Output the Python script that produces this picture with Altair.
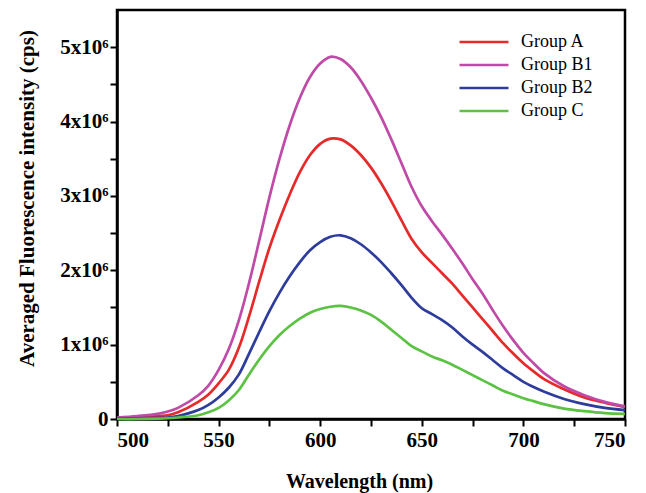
import altair as alt
import pandas as pd

wavelengths = [500, 510, 520, 525, 530, 540, 545, 550, 555, 560, 565, 570, 575, 580, 585, 590, 595,
               600, 605, 610, 615, 620, 625, 630, 635, 640, 645, 650, 655, 660, 665, 670, 675, 680,
               685, 690, 695, 700, 705, 710, 720, 730, 740, 750]

group_a = [0.01, 0.02, 0.04, 0.05, 0.09, 0.23, 0.33, 0.48, 0.66, 0.96, 1.38, 1.85, 2.30, 2.68, 3.02,
           3.32, 3.55, 3.70, 3.77, 3.76, 3.68, 3.55, 3.38, 3.17, 2.93, 2.67, 2.42, 2.24, 2.10, 1.96,
           1.82, 1.66, 1.50, 1.34, 1.18, 1.02, 0.88, 0.75, 0.64, 0.54, 0.40, 0.29, 0.22, 0.16]
group_b1 = [0.02, 0.04, 0.07, 0.10, 0.15, 0.32, 0.45, 0.66, 0.94, 1.33, 1.83, 2.40, 2.98, 3.50, 3.95,
            4.32, 4.60, 4.78, 4.87, 4.84, 4.73, 4.55, 4.32, 4.06, 3.76, 3.44, 3.12, 2.86, 2.66, 2.48,
            2.29, 2.09, 1.88, 1.68, 1.46, 1.25, 1.06, 0.89, 0.75, 0.62, 0.44, 0.32, 0.23, 0.17]
group_b2 = [0.005, 0.01, 0.015, 0.02, 0.04, 0.12, 0.19, 0.29, 0.42, 0.60, 0.88, 1.17, 1.45, 1.70, 1.92,
            2.11, 2.27, 2.38, 2.45, 2.47, 2.43, 2.35, 2.24, 2.11, 1.96, 1.80, 1.63, 1.49, 1.41, 1.33,
            1.23, 1.11, 1.00, 0.90, 0.79, 0.68, 0.59, 0.50, 0.43, 0.37, 0.27, 0.20, 0.15, 0.12]
group_c = [0.0, 0.0, 0.005, 0.01, 0.02, 0.05, 0.09, 0.15, 0.25, 0.39, 0.60, 0.80, 0.98, 1.13, 1.25,
           1.35, 1.43, 1.48, 1.51, 1.52, 1.50, 1.46, 1.40, 1.31, 1.20, 1.09, 0.98, 0.91, 0.84, 0.79,
           0.73, 0.66, 0.59, 0.52, 0.45, 0.38, 0.33, 0.28, 0.24, 0.20, 0.14, 0.105, 0.08, 0.07]

groups = ["Group A", "Group B1", "Group B2", "Group C"]
colors = ["#e62a2a", "#c04aa8", "#2e3c9c", "#5cc244"]
series = [group_a, group_b1, group_b2, group_c]

rows = []
for g, vals in zip(groups, series):
    for w, v in zip(wavelengths, vals):
        rows.append({"wavelength": w, "intensity": v * 1e6, "group": g})
df = pd.DataFrame(rows)

x_ticks = list(range(500, 751, 25))
y_ticks = [i * 500000 for i in range(0, 11)]

chart = alt.Chart(df).mark_line(strokeWidth=2.7, interpolate="catmull-rom").encode(
    x=alt.X("wavelength:Q",
            scale=alt.Scale(domain=[500, 750], nice=False, zero=False),
            axis=alt.Axis(title="Wavelength (nm)", values=x_ticks,
                          labelExpr="datum.value % 50 == 0 ? datum.label : ''",
                          grid=False, tickSize=7, tickWidth=2, tickColor="black",
                          domainColor="black", domainWidth=2.5,
                          labelFont="Liberation Serif", labelFontWeight="bold", labelFontSize=21,
                          labelColor="black", labelPadding=3,
                          titleFont="Liberation Serif", titleFontWeight="bold", titleFontSize=20,
                          titleColor="black", titleX=242, titleY=62, titleBaseline="middle")),
    y=alt.Y("intensity:Q",
            scale=alt.Scale(domain=[0, 5500000], nice=False),
            axis=alt.Axis(title="Averaged Fluorescence intensity (cps)", values=y_ticks,
                          labelExpr="datum.value == 0 ? '0' : (datum.value % 1000000 == 0 ? (datum.value / 1000000) + 'x10⁶' : '')",
                          grid=False, tickSize=7, tickWidth=2, tickColor="black",
                          domainColor="black", domainWidth=2.5,
                          labelFont="Liberation Serif", labelFontWeight="bold", labelFontSize=21,
                          labelColor="black", labelPadding=2,
                          titleFont="Liberation Serif", titleFontWeight="bold", titleFontSize=21,
                          titleColor="black", titleX=-90, titleY=188, titleBaseline="middle")),
    color=alt.Color("group:N",
                    scale=alt.Scale(domain=groups, range=colors),
                    legend=alt.Legend(title=None, orient="none", legendX=358, legendY=23,
                                      symbolType="M-5,0H5", symbolSize=96, symbolStrokeWidth=2.7,
                                      symbolFillColor="transparent",
                                      labelFont="Liberation Serif", labelFontSize=18,
                                      labelColor="black", rowPadding=5, labelOffset=28)),
).properties(
    width=508, height=409,
    autosize=alt.AutoSizeParams(type="none"),
    padding={"left": 109, "top": 2, "right": 10, "bottom": 74},
).configure_view(stroke="black", strokeWidth=2.5)

chart.save("out.html", embed_options={"renderer": "svg", "actions": False})
